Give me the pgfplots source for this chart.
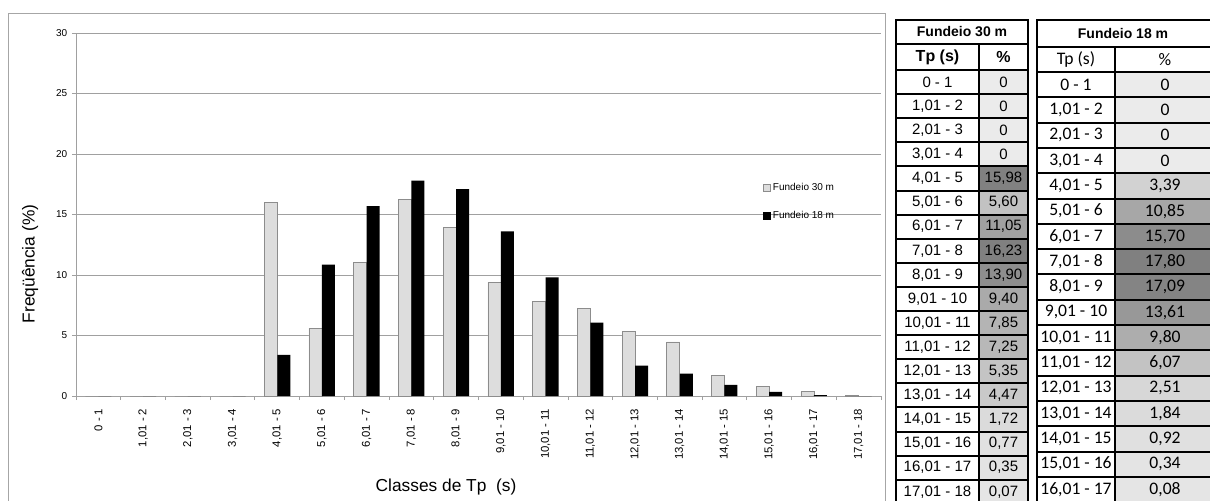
\documentclass[border=0pt]{standalone}
\usepackage{fontspec}
\setmainfont{Liberation Sans}
\newfontfamily\carlito{Carlito}
\usepackage{pgfplots}
\usepackage{pgfplotstable}
\pgfplotsset{compat=1.18}

\definecolor{barlight}{HTML}{DDDDDD}
\definecolor{baredge}{HTML}{8C8C8C}
\definecolor{gridgray}{HTML}{A0A0A0}
\definecolor{framegray}{HTML}{A6A6A6}

% classes de Tp (s): frequencia (%) nos dois fundeios
\pgfplotstableread{
idx f30   f18
0   0     0
1   0     0
2   0     0
3   0     0
4   15.98 3.39
5   5.60  10.85
6   11.05 15.70
7   16.23 17.80
8   13.90 17.09
9   9.40  13.61
10  7.85  9.80
11  7.25  6.07
12  5.35  2.51
13  4.47  1.84
14  1.72  0.92
15  0.77  0.34
16  0.35  0.08
17  0.07  0
}\datatable

\newcommand\rowlabel[1]{\ifnum#1=0 0 - 1\else#1,01 - \the\numexpr#1+1\relax\fi}
\newcommand\valtext[1]{\ifdim#1pt=0pt 0\else\pgfmathprintnumber[fixed,fixed zerofill,precision=2,use comma,assume math mode=true]{#1}\fi}
\newcommand\tabA{\fontsize{11.25}{13}\selectfont}
\newcommand\tabB{\carlito\fontsize{13.2}{15}\selectfont}

\begin{document}
\begin{tikzpicture}
\begin{axis}[
  at={(57pt,-297pt)}, anchor=south west,
  scale only axis, width=603.75pt, height=272.25pt,
  xmin=-0.5, xmax=17.5, ymin=0, ymax=30,
  ybar=0pt, bar width=9.75pt,
  axis x line*=bottom, axis y line*=left,
  axis line style={draw=gridgray, line width=0.7pt, -},
  ytick={0,5,...,30},
  ymajorgrids, grid style={gridgray, line width=0.6pt},
  tick align=outside, major tick length=3pt,
  tick style={gridgray, line width=0.6pt},
  xtick={-0.5,0.5,...,17.5}, xticklabels={},
  extra x ticks={0,...,17},
  extra x tick labels={0 - 1,{1,01 - 2},{2,01 - 3},{3,01 - 4},{4,01 - 5},{5,01 - 6},{6,01 - 7},{7,01 - 8},{8,01 - 9},{9,01 - 10},{10,01 - 11},{11,01 - 12},{12,01 - 13},{13,01 - 14},{14,01 - 15},{15,01 - 16},{16,01 - 17},{17,01 - 18}},
  extra x tick style={major tick length=0pt},
  xticklabel shift=6pt,
  x tick label style={rotate=90, anchor=east, font=\fontsize{8.5}{10}\selectfont},
  y tick label style={font=\fontsize{7.5}{9}\selectfont},
  /pgf/number format/assume math mode=true,
  legend style={at={(rel axis cs:0.853,0.595)}, anchor=north west, draw=none, fill=none,
    font=\fontsize{7.5}{9}\selectfont, row sep=10pt, inner sep=0pt},
  legend cell align=left,
  legend image code/.code={\draw[#1] (0pt,-2.5pt) rectangle (5pt,2.5pt);},
]
\addplot[fill=barlight, draw=baredge, line width=0.5pt] table[x=idx, y=f30] {\datatable};
\addplot[fill=black, draw=none] table[x=idx, y=f18] {\datatable};
\legend{Fundeio 30 m, Fundeio 18 m}
\end{axis}

\begin{scope}[x=0.75pt, y=-0.75pt]
\draw[framegray, line width=0.6pt] (8,13) rectangle (885,520);
\node[rotate=90, font=\fontsize{13}{15}\selectfont] at (30,264) {Freqüência (\%)};
\node[font=\fontsize{13}{15}\selectfont] at (446,487) {Classes de Tp\ \ (s)};

% tabela Fundeio 30 m
\filldraw[fill=white, draw=black, line width=1.5pt] (896,20) rectangle (1028,44);
\node[font=\fontsize{10.5}{12}\selectfont\bfseries] at (962,32) {Fundeio 30 m};
\filldraw[fill=white, draw=black, line width=1.5pt] (896,44) rectangle (979,70);
\filldraw[fill=white, draw=black, line width=1.5pt] (979,44) rectangle (1028,70);
\node[font=\fontsize{12}{14}\selectfont\bfseries] at (937.5,57) {Tp (s)};
\node[font=\fontsize{12}{14}\selectfont\bfseries] at (1003.5,57) {\%};
\foreach \i in {0,...,17}{
  \pgfplotstablegetelem{\i}{f30}\of\datatable
  \let\v\pgfplotsretval
  \pgfmathsetmacro\s{\v==0 ? 8 : 10+40*\v/16.23}
  \pgfmathsetmacro\ya{70+24.1*\i}
  \pgfmathsetmacro\yb{\ya+24.1}
  \pgfmathsetmacro\ym{\ya+12.05}
  \filldraw[fill=white, draw=black, line width=1.5pt] (896,\ya) rectangle (979,\yb);
  \filldraw[fill=black!\s, draw=black, line width=1.5pt] (979,\ya) rectangle (1028,\yb);
  \node[font=\tabA] at (937.5,\ym) {\rowlabel{\i}};
  \node[font=\tabA] at (1003.5,\ym) {\valtext{\v}};
}

% tabela Fundeio 18 m
\filldraw[fill=white, draw=black, line width=1.5pt] (1037,20) rectangle (1216,47);
\node[font=\fontsize{10.5}{12}\selectfont\bfseries] at (1123,33.5) {Fundeio 18 m};
\filldraw[fill=white, draw=black, line width=1.5pt] (1037,47) rectangle (1115,72);
\filldraw[fill=white, draw=black, line width=1.5pt] (1115,47) rectangle (1216,72);
\node[font=\tabB] at (1076,59.5) {Tp (s)};
\node[font=\tabB] at (1165,59.5) {\%};
\foreach \i in {0,...,16}{
  \pgfplotstablegetelem{\i}{f18}\of\datatable
  \let\v\pgfplotsretval
  \pgfmathsetmacro\s{\v==0 ? 8 : 10+40*\v/17.80}
  \pgfmathsetmacro\ya{72+25.3*\i}
  \pgfmathsetmacro\yb{\ya+25.3}
  \pgfmathsetmacro\ym{\ya+12.65}
  \filldraw[fill=white, draw=black, line width=1.5pt] (1037,\ya) rectangle (1115,\yb);
  \filldraw[fill=black!\s, draw=black, line width=1.5pt] (1115,\ya) rectangle (1216,\yb);
  \node[font=\tabB] at (1076,\ym) {\rowlabel{\i}};
  \node[font=\tabB] at (1165,\ym) {\valtext{\v}};
}
\end{scope}

\pgfresetboundingbox
\path[use as bounding box] (0pt,0pt) rectangle (907.5pt,-375pt);
\end{tikzpicture}
\end{document}
